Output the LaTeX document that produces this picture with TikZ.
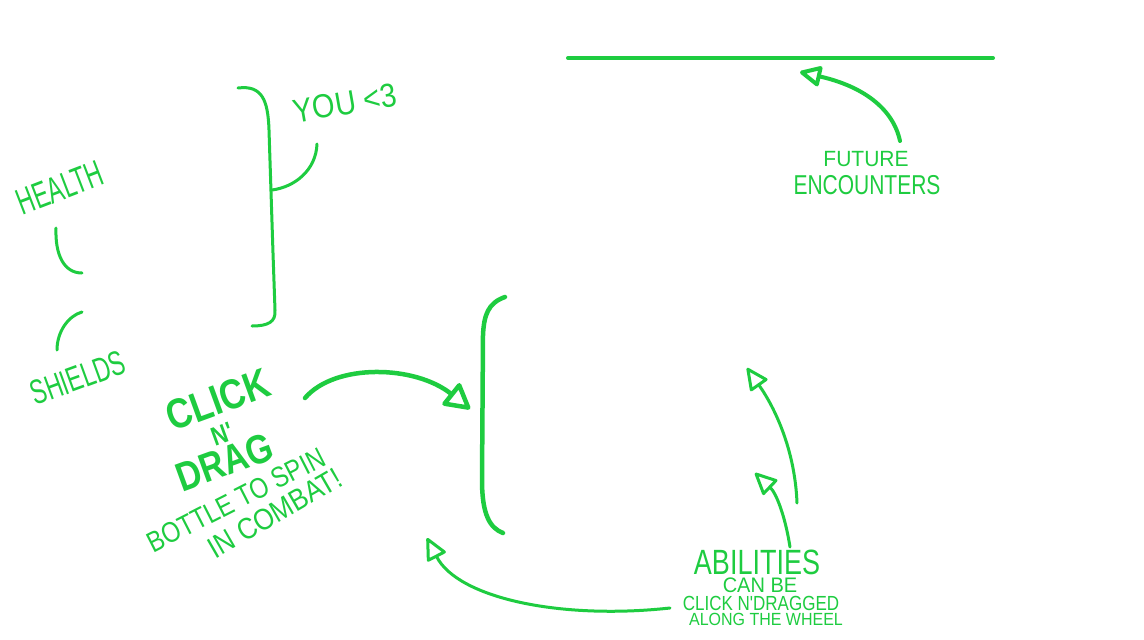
\documentclass[tikz,border=0pt]{standalone}
\usepackage{fontspec}
\newfontfamily\hand{Liberation Sans}
\usetikzlibrary{arrows.meta}
\definecolor{pen}{RGB}{30,204,64}
\tikzset{
  stroke/.style={draw=pen, line width=3pt, line cap=round, line join=round},
  thick stroke/.style={stroke, line width=4.5pt},
  arr/.style={stroke, -{Triangle[open, length=24pt, width=22pt, line join=round]}},
  big arr/.style={stroke, line width=4.5pt, -{Triangle[open, length=28pt, width=30pt, line join=round]}},
  lbl/.style={text=pen, inner sep=0pt, font=\hand},
}
\newcommand{\fs}[1]{\fontsize{#1}{#1}\selectfont}
\begin{document}
\begin{tikzpicture}[x=1pt, y=-1pt]
\useasboundingbox (0,0) rectangle (1144,640);
\fill[white] (0,0) rectangle (1144,640);

% top line and future encounters
\coordinate (tl1) at (568,58);
\coordinate (tl2) at (993,58);
\draw[thick stroke, line width=4pt] (tl1) -- (tl2);
\node[lbl, font=\hand\fs{21}, yscale=1.05] (fut) at (866,159) {FUTURE};
\node[lbl, font=\hand\fs{21}, yscale=1.3] (enc) at (867,185) {ENCOUNTERS};
\coordinate (fa0) at (900,141);
\coordinate (fa1) at (800,72);
\draw[arr, line width=4pt] (fa0) .. controls (893,108) and (862,86) .. (fa1);

% you bracket
\coordinate (yb1) at (238,88);
\coordinate (yb2) at (252,326);
\draw[stroke] (yb1) .. controls (262,85) and (268,100) .. (269,130) -- (273,253) -- (275,310) .. controls (276,322) and (268,326) .. (yb2);
\node[lbl, font=\hand\fs{29}, rotate=10, yscale=1.15] (you) at (345,103) {YOU <3};
\coordinate (yc0) at (272,190);
\coordinate (yc1) at (317,144);
\draw[stroke] (yc0) .. controls (295,187) and (316,170) .. (yc1);

% health and shields
\node[lbl, font=\hand\fs{23}, rotate=21, yscale=1.6] (health) at (60,188) {HEALTH};
\coordinate (ha0) at (56,228);
\coordinate (ha1) at (82,273);
\draw[stroke] (ha0) .. controls (55,255) and (64,273) .. (ha1);
\node[lbl, font=\hand\fs{23}, rotate=20, yscale=1.5] (shields) at (78,378) {SHIELDS};
\coordinate (sa0) at (57,350);
\coordinate (sa1) at (82,312);
\draw[stroke] (sa0) .. controls (57,332) and (68,316) .. (sa1);

% click n drag
\node[lbl, font=\hand\bfseries\fs{35}, rotate=20, yscale=1.2] (click) at (218,400) {CLICK};
\node[lbl, font=\hand\bfseries\fs{22}, rotate=20, yscale=1.2] (n) at (222,434) {N'};
\node[lbl, font=\hand\bfseries\fs{34}, rotate=20, yscale=1.2] (drag) at (225,462) {DRAG};
\node[lbl, font=\hand\fs{24}, rotate=27, yscale=1.2] (bottle) at (236,500) {BOTTLE TO SPIN};
\node[lbl, font=\hand\fs{26}, rotate=30, yscale=1.15] (combat) at (275,513) {IN COMBAT!};
\coordinate (ca0) at (305,398);
\coordinate (ca1) at (470,409);
\draw[big arr] (ca0) .. controls (335,363) and (415,365) .. (ca1);

% big bracket
\coordinate (bb1) at (505,297);
\coordinate (bb2) at (503,533);
\draw[thick stroke] (bb1) .. controls (488,303) and (484,315) .. (483,335) -- (482,480) .. controls (482,515) and (490,528) .. (bb2);

% abilities
\node[lbl, font=\hand\fs{27}, yscale=1.3] (abil) at (757,562) {ABILITIES};
\node[lbl, font=\hand\fs{20}, yscale=1.05] (canbe) at (760,585) {CAN BE};
\node[lbl, font=\hand\fs{17}, yscale=1.2] (cnd) at (761,603) {CLICK N'DRAGGED};
\node[lbl, font=\hand\fs{16}, yscale=1.1] (along) at (766,619) {ALONG THE WHEEL};
\coordinate (aa0) at (797,503);
\coordinate (aa1) at (747,368);
\draw[arr] (aa0) .. controls (795,450) and (775,408) .. (aa1);
\coordinate (ab0) at (790,547);
\coordinate (ab1) at (755,473);
\draw[arr] (ab0) .. controls (785,515) and (776,493) .. (ab1);
\coordinate (ac0) at (670,608);
\coordinate (ac1) at (427,538);
\draw[arr] (ac0) .. controls (560,620) and (458,598) .. (ac1);
\end{tikzpicture}
\end{document}
